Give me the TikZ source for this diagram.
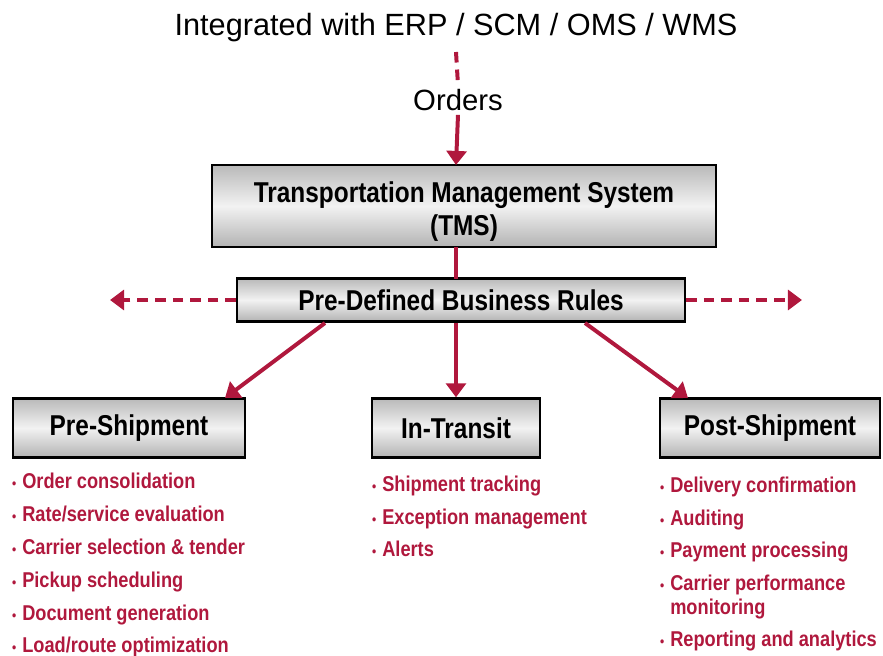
\documentclass[tikz,border=0pt]{standalone}
\usepackage{fontspec}
\setmainfont{Liberation Sans}
\newfontfamily\narrowfont{Liberation Sans}[FakeStretch=0.85]
\usetikzlibrary{arrows.meta}
\definecolor{tmsred}{RGB}{176,24,61}

\tikzset{
  tmsbox/.style={draw=black, line width=2pt, top color=gray!55, bottom color=gray!60,
    middle color=gray!10, align=center, inner sep=0pt,
    font=\narrowfont\bfseries\fontsize{24.5}{28}\selectfont},
  listtext/.style={anchor=base west, align=left, inner sep=0pt, text=tmsred,
    font=\narrowfont\bfseries\fontsize{18.3}{28}\selectfont},
  redline/.style={draw=tmsred, line width=3.4pt},
  redarrow/.style={redline, -{Triangle[length=12pt,width=17pt]}},
  dasharrow/.style={redarrow, dash pattern=on 9pt off 6pt}
}
\newcommand{\itm}{{\fontsize{12}{12}\selectfont\textbullet}\hspace{5pt}}

\begin{document}
\begin{tikzpicture}[x=0.03cm, y=-0.03cm]
\useasboundingbox (0,0) rectangle (883,656);

\node (title) at (456,28) {\fontsize{26.2}{30}\selectfont Integrated with ERP / SCM / OMS / WMS};
\node (orders) at (458,100) {\fontsize{25}{28}\selectfont Orders};

\node[tmsbox, minimum width=15.12cm, minimum height=2.46cm] (tms) at (464,206)
  {\rule{0pt}{27pt}Transportation Management System\\(TMS)};
\node[tmsbox, minimum width=13.44cm, minimum height=1.29cm] (rules) at (461,300)
  {Pre-Defined Business Rules};

\node[tmsbox, minimum width=6.96cm, minimum height=1.77cm] (pre) at (129,428) {Pre-Shipment};
\node[tmsbox, minimum width=5.04cm, minimum height=1.77cm] (transit) at (456,428) {In-Transit};
\node[tmsbox, minimum width=6.6cm, minimum height=1.77cm] (post) at (770,428) {Post-Shipment};

% connectors
\coordinate (dashtop) at (456,52);
\coordinate (leftend) at (110,300);
\coordinate (rightend) at (802,300);
\draw[redline, dash pattern=on 9pt off 6pt] (dashtop) -- (orders.north);
\draw[redarrow] (orders.south) -- (456,165);
\draw[redline] (456,247) -- (456,279);
\draw[dasharrow] (rules.west) -- (leftend);
\draw[dasharrow] (rules.east) -- (rightend);
\draw[redarrow] (325,323) -- (225,398);
\draw[redarrow] (456,323) -- (transit.north);
\draw[redarrow] (585,323) -- (688,398);

% lists (anchored at the last baseline)
\node[listtext] (prelist) at (12,653) {\itm Order consolidation\\
  \itm Rate/service evaluation\\
  \itm Carrier selection \& tender\\
  \itm Pickup scheduling\\
  \itm Document generation\\
  \itm Load/route optimization};
\node[listtext] (transitlist) at (372,557) {\itm Shipment tracking\\
  \itm Exception management\\
  \itm Alerts};
\node[listtext] (postlist) at (660,647) {\itm Delivery confirmation\\
  \itm Auditing\\
  \itm Payment processing\\
  \itm Carrier performance\\[-8pt]
  \phantom{\itm}monitoring\\
  \itm Reporting and analytics};
\end{tikzpicture}
\end{document}
